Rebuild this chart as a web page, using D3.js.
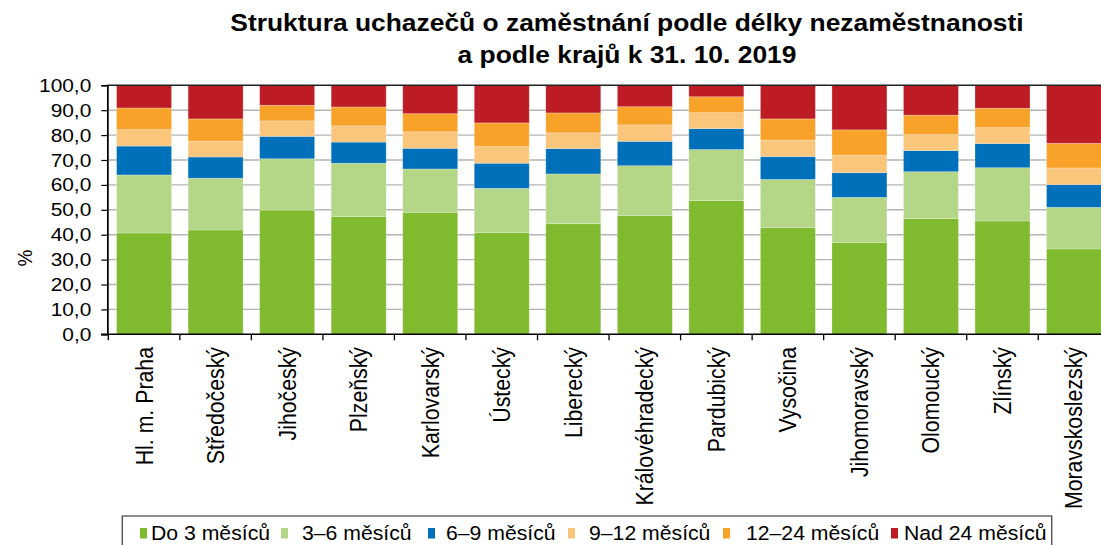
<!DOCTYPE html>
<html>
<head>
<meta charset="utf-8">
<script src="https://cdn.jsdelivr.net/npm/d3@7"></script>
<style>
  body { margin: 0; background: #fff; }
  svg text { font-family: "Liberation Sans", Arial, sans-serif; fill: #000; }
</style>
</head>
<body>
<div id="chart"></div>
<script>
// data (%)
var regions = ["Hl. m. Praha", "Středočeský", "Jihočeský", "Plzeňský", "Karlovarský", "Ústecký",
  "Liberecký", "Královéhradecký", "Pardubický", "Vysočina", "Jihomoravský", "Olomoucký",
  "Zlínský", "Moravskoslezský"];
var seriesNames = ["Do 3 měsíců", "3–6 měsíců", "6–9 měsíců", "9–12 měsíců", "12–24 měsíců", "Nad 24 měsíců"];
var do3   = [40.7, 41.9, 49.9, 47.3, 49.0, 40.8, 44.4, 47.7, 53.7, 42.8, 36.9, 46.5, 45.5, 34.3];
var m3_6  = [23.3, 20.8, 20.6, 21.4, 17.4, 17.8, 20.0, 20.0, 20.5, 19.4, 18.1, 18.8, 21.4, 16.7];
var m6_9  = [11.6,  8.5,  9.0,  8.5,  8.3, 10.1, 10.2,  9.8,  8.4,  9.2,  9.9,  8.5,  9.7,  9.1];
var m9_12 = [ 6.6,  6.4,  6.2,  6.5,  6.6,  6.7,  6.3,  6.6,  6.4,  6.6,  7.1,  6.4,  6.4,  6.7];
var m12_24 = [8.7,  8.9,  6.3,  7.6,  7.3,  9.5,  8.0,  7.3,  6.4,  8.5, 10.1,  7.8,  7.8,  9.9];
var nad24 = [ 9.1, 13.5,  8.0,  8.7, 11.4, 15.1, 11.1,  8.6,  4.6, 13.5, 17.9, 12.0,  9.2, 23.3];
var yTicks = [0, 10, 20, 30, 40, 50, 60, 70, 80, 90, 100];

var colors = ["#80BA2E", "#B3D687", "#0070BA", "#F9C67C", "#F9A229", "#BE1C24"];

// the reference is a bit wider than tall, so everything is drawn squeezed and stretched back
var SX = 1.1;
function px(v) { return v / SX; }

var width = 1101, height = 545;

var svg = d3.select("#chart").append("svg")
  .attr("width", width)
  .attr("height", height);

var g = svg.append("g").attr("transform", "scale(" + SX + ",1)");

// build rows for the stack
var rows = regions.map(function (r, i) {
  return { region: r, s0: do3[i], s1: m3_6[i], s2: m6_9[i], s3: m9_12[i], s4: m12_24[i], s5: nad24[i] };
});
var keys = ["s0", "s1", "s2", "s3", "s4", "s5"];
var stacked = d3.stack().keys(keys)(rows);

var x = d3.scaleBand()
  .domain(regions)
  .range([px(108.3), px(1109.8)])
  .paddingInner(0.231)
  .paddingOuter(0.1155);

var y = d3.scaleLinear().domain([0, 100]).range([334.3, 85.3]);

var plotLeft = px(107.3), plotRight = px(1110);

// gridlines
g.append("g").selectAll("line")
  .data(yTicks.filter(function (d) { return d > 0 && d < 100; }))
  .enter().append("line")
  .attr("x1", plotLeft).attr("x2", plotRight)
  .attr("y1", function (d) { return y(d); })
  .attr("y2", function (d) { return y(d); })
  .attr("stroke", "#b4b4b4")
  .attr("stroke-width", 1.4);

// bars
g.append("g").selectAll("g")
  .data(stacked)
  .enter().append("g")
  .attr("fill", function (d, i) { return colors[i]; })
  .selectAll("rect")
  .data(function (d) { return d; })
  .enter().append("rect")
  .attr("x", function (d) { return x(d.data.region); })
  .attr("width", x.bandwidth())
  .attr("y", function (d) { return y(d[1]); })
  .attr("height", function (d) { return y(d[0]) - y(d[1]); })
  .attr("stroke", "#fff")
  .attr("stroke-opacity", 0.35)
  .attr("stroke-width", 0.7);

// top border
g.append("line")
  .attr("x1", plotLeft).attr("x2", plotRight)
  .attr("y1", y(100)).attr("y2", y(100))
  .attr("stroke", "#222").attr("stroke-width", 1.6);

// y axis
var fmt = d3.formatLocale({ decimal: ",", thousands: " ", grouping: [3], currency: ["", " Kč"] }).format(".1f");
var yAxis = d3.axisLeft(y).tickValues(yTicks).tickSize(px(6)).tickPadding(px(10)).tickFormat(fmt);
var yg = g.append("g")
  .attr("transform", "translate(" + plotLeft + ",0)")
  .call(yAxis);
yg.select(".domain").attr("stroke", "#000").attr("stroke-width", 1.6);
yg.selectAll(".tick line").attr("stroke", "#000").attr("stroke-width", 1.2);
yg.selectAll(".tick text")
  .style("font-size", "19px")
  .attr("fill", "#000");

// x axis: line + ticks on band boundaries
g.append("line")
  .attr("x1", px(101)).attr("x2", plotRight)
  .attr("y1", y(0)).attr("y2", y(0))
  .attr("stroke", "#000").attr("stroke-width", 1.6);

var bounds = regions.map(function (r) { return x(r) - x.step() * x.paddingInner() / 2; });
g.append("g").selectAll("line")
  .data(bounds)
  .enter().append("line")
  .attr("x1", function (d) { return d; })
  .attr("x2", function (d) { return d; })
  .attr("y1", y(0)).attr("y2", y(0) + 6)
  .attr("stroke", "#000").attr("stroke-width", 1.2);

g.append("g").selectAll("text")
  .data(regions)
  .enter().append("text")
  .attr("transform", function (d) {
    return "translate(" + (x(d) + x.bandwidth() / 2) + "," + 347 + ") rotate(-90)";
  })
  .attr("dy", "0.36em")
  .attr("text-anchor", "end")
  .style("font-size", "21.3px")
  .text(function (d) { return d; });

// y axis title
g.append("text")
  .attr("transform", "translate(" + px(24) + "," + 258 + ") rotate(-90)")
  .attr("dy", "0.36em")
  .attr("text-anchor", "middle")
  .style("font-size", "19px")
  .text("%");

// title
var title = g.append("text")
  .attr("text-anchor", "middle")
  .style("font-size", "24px")
  .style("font-weight", "bold");
title.append("tspan").attr("x", px(627)).attr("y", 31)
  .text("Struktura uchazečů o zaměstnání podle délky nezaměstnanosti");
title.append("tspan").attr("x", px(627)).attr("y", 63)
  .text("a podle krajů k 31. 10. 2019");

// legend
var legSquareX = [140, 281, 428, 568, 723, 891];
var legTextX = [151, 302, 446, 589, 746, 904];

g.append("rect")
  .attr("x", px(122.3)).attr("y", 516)
  .attr("width", px(1051.7 - 122.3)).attr("height", 50)
  .attr("fill", "#fff")
  .attr("stroke", "#555").attr("stroke-width", 1.3);

var leg = g.append("g").selectAll("g")
  .data(seriesNames)
  .enter().append("g");

leg.append("rect")
  .attr("x", function (d, i) { return px(legSquareX[i]); })
  .attr("y", 528)
  .attr("width", px(7)).attr("height", 10.5)
  .attr("fill", function (d, i) { return colors[i]; });

leg.append("text")
  .attr("x", function (d, i) { return px(legTextX[i]); })
  .attr("y", 540)
  .style("font-size", "19.3px")
  .text(function (d) { return d; });
</script>
</body>
</html>
